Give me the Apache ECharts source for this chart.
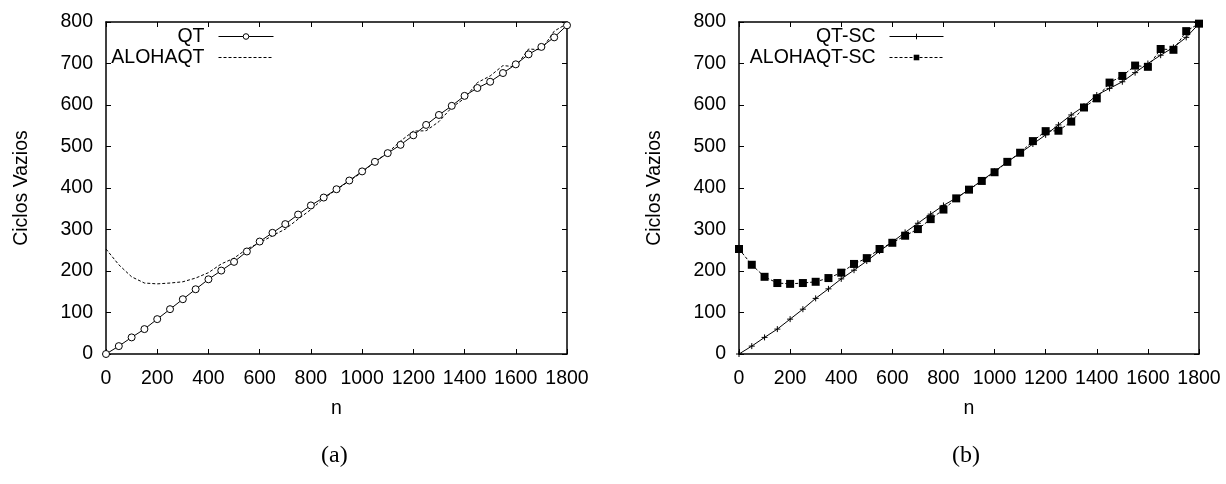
<!DOCTYPE html>
<html>
<head>
<meta charset="utf-8">
<script src="https://cdn.jsdelivr.net/npm/echarts@6/dist/echarts.min.js"></script>
<style>
html,body{margin:0;padding:0;background:#fff;}
#chart{width:1226px;height:484px;}
</style>
</head>
<body>
<div id="chart"></div>
<script>
// ---- data ----
const nValues = [0,50,100,150,200,250,300,350,400,450,500,550,600,650,700,750,800,850,900,950,1000,1050,1100,1150,1200,1250,1300,1350,1400,1450,1500,1550,1600,1650,1700,1750,1800];
const qt = [0,19,40,60,84,108,132,156,180,201,222,247,271,292,313,336,358,377,397,418,440,463,484,504,527,552,576,598,622,641,656,677,698,722,740,763,792];
const alohaqt = [253,215,186,171,169,171,174,183,196,217,231,253,268,285,301,325,348,375,396,417,438,463,485,513,537,538,560,594,616,654,670,695,692,735,733,778,796];
const qtSC = [0,19,40,60,84,108,134,157,181,202,224,248,270,293,315,337,358,376,396,418,440,463,484,506,528,552,576,597,624,640,656,678,700,720,739,763,796];
const alohaqtSC = [253,215,186,171,169,171,174,183,196,217,231,253,268,285,301,325,348,375,396,417,438,463,485,513,537,538,560,594,616,654,670,695,692,735,733,778,796];
const xTicks = [0,1800,200];
const yTicks = [0,800,100];
const xName = 'n';
const yName = 'Ciclos Vazios';
const captions = ['(a)', '(b)'];
const seriesNames = ['QT', 'ALOHAQT', 'QT-SC', 'ALOHAQT-SC'];

const pairs = (ys) => nValues.map((n, i) => [n, ys[i]]);

const FONT = 'Liberation Sans';
const FS = 19.5;
const plain = (v) => String(v);

function xAxes(g) {
  return [
    { type: 'value', gridIndex: g, min: xTicks[0], max: xTicks[1], interval: xTicks[2], position: 'bottom',
      name: xName, nameLocation: 'middle', nameGap: 45,
      nameTextStyle: { fontFamily: FONT, fontSize: FS, color: '#000' },
      axisLine: { show: true, onZero: false, lineStyle: { color: '#000', width: 1.5 } },
      axisTick: { show: true, inside: true, length: 5, lineStyle: { color: '#000', width: 1 } },
      axisLabel: { show: true, margin: 15, fontFamily: FONT, fontSize: FS, color: '#000', formatter: plain },
      splitLine: { show: false } },
    { type: 'value', gridIndex: g, min: xTicks[0], max: xTicks[1], interval: xTicks[2], position: 'top',
      axisLine: { show: true, onZero: false, lineStyle: { color: '#000', width: 1.5 } },
      axisTick: { show: true, inside: true, length: 5, lineStyle: { color: '#000', width: 1 } },
      axisLabel: { show: false }, splitLine: { show: false } }
  ];
}
function yAxes(g) {
  return [
    { type: 'value', gridIndex: g, min: yTicks[0], max: yTicks[1], interval: yTicks[2], position: 'left',
      name: yName, nameLocation: 'middle', nameGap: 74, nameRotate: 90,
      nameTextStyle: { fontFamily: FONT, fontSize: FS, color: '#000' },
      axisLine: { show: true, onZero: false, lineStyle: { color: '#000', width: 1.5 } },
      axisTick: { show: true, inside: true, length: 5, lineStyle: { color: '#000', width: 1 } },
      axisLabel: { show: true, margin: 13, fontFamily: FONT, fontSize: FS, color: '#000', formatter: plain },
      splitLine: { show: false } },
    { type: 'value', gridIndex: g, min: yTicks[0], max: yTicks[1], interval: yTicks[2], position: 'right',
      axisLine: { show: true, onZero: false, lineStyle: { color: '#000', width: 1.5 } },
      axisTick: { show: true, inside: true, length: 5, lineStyle: { color: '#000', width: 1 } },
      axisLabel: { show: false }, splitLine: { show: false } }
  ];
}

const plusPath = 'path://M0,5L10,5M5,0L5,10';

const legendCommon = {
  orient: 'vertical', align: 'right', padding: 0, itemGap: 0,
  itemWidth: 55, itemHeight: 7, selectedMode: false,
  textStyle: { fontFamily: FONT, fontSize: FS, color: '#000', lineHeight: 21, padding: [0, 9, 0, 0] },
  lineStyle: { width: 1 },
  itemStyle: { borderWidth: 1 }
};

const option = {
  animation: false,
  backgroundColor: '#fff',
  grid: [
    { left: 106, top: 22, width: 461, height: 332 },
    { left: 739, top: 22, width: 460, height: 332 }
  ],
  xAxis: [...xAxes(0), ...xAxes(1)],
  yAxis: [...yAxes(0), ...yAxes(1)],
  legend: [
    Object.assign({}, legendCommon, { right: 952, top: 26,
      data: [ { name: seriesNames[0] }, { name: seriesNames[1], itemStyle: { color: 'rgba(0,0,0,0)', borderColor: 'rgba(0,0,0,0)' } } ] }),
    Object.assign({}, legendCommon, { right: 282, top: 26, itemWidth: 54,
      data: [ { name: seriesNames[2] }, { name: seriesNames[3] } ] })
  ],
  series: [
    { name: seriesNames[1], type: 'line', xAxisIndex: 0, yAxisIndex: 0, data: pairs(alohaqt),
      symbol: 'none', color: '#000', z: 2,
      lineStyle: { color: '#000', width: 1, type: [3, 2] } },
    { name: seriesNames[0], type: 'line', xAxisIndex: 0, yAxisIndex: 0, data: pairs(qt),
      symbol: 'circle', symbolSize: 7, showAllSymbol: true, color: '#000', z: 3,
      itemStyle: { color: '#fff', borderColor: '#000', borderWidth: 1 },
      lineStyle: { color: '#000', width: 1 } },
    { name: seriesNames[2], type: 'line', xAxisIndex: 2, yAxisIndex: 2, data: pairs(qtSC),
      symbol: plusPath, symbolSize: 6, showAllSymbol: true, color: '#000', z: 3,
      itemStyle: { color: '#000', borderColor: '#000', borderWidth: 1 },
      lineStyle: { color: '#000', width: 1 } },
    { name: seriesNames[3], type: 'line', xAxisIndex: 2, yAxisIndex: 2, data: pairs(alohaqtSC),
      symbol: 'rect', symbolSize: 8, showAllSymbol: true, color: '#000', z: 4,
      itemStyle: { color: '#000' },
      lineStyle: { color: '#000', width: 1, type: [3, 2] } }
  ],
  graphic: [
    { type: 'text', left: 336 - 15, top: 444, style: { text: captions[0], font: '24px "Liberation Serif"', fill: '#000' } },
    { type: 'text', left: 967 - 15, top: 444, style: { text: captions[1], font: '24px "Liberation Serif"', fill: '#000' } }
  ]
};

const chart = echarts.init(document.getElementById('chart'), null, { renderer: 'canvas' });
chart.setOption(option);
</script>
</body>
</html>
